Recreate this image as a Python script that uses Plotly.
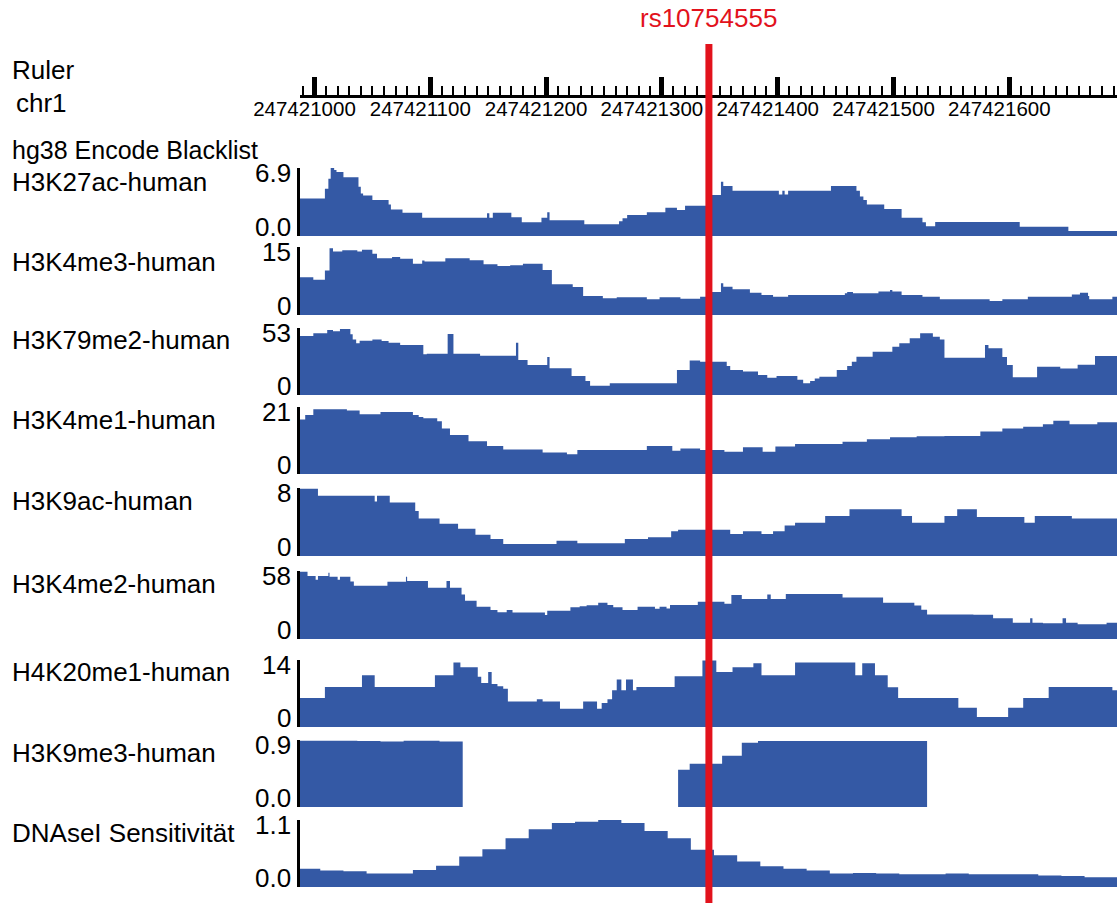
import plotly.graph_objects as go

W, H = 1117, 903
BASE = 247421000          # chr1 coordinate used as offset origin
VIEW = (-12.5, 693.0)     # visible window, bp offsets from BASE
SNP_NAME = "rs10754555"
SNP_OFFSET = 340.6

RULER_LABEL = "Ruler"
CHROM = "chr1"
BLACKLIST_LABEL = "hg38 Encode Blacklist"

# ---- track data: segment start (bp offset from BASE) and signal value ----
H3K27AC_POS = [-13, 9, 12, 14, 17, 19, 25, 38, 40, 42, 50, 64, 66, 76, 93, 149, 151, 154, 170, 179, 196, 201, 203,
               233, 263, 266, 270, 287, 303, 313, 320, 341, 351, 353, 361, 401, 404, 406, 409, 446, 468, 471, 474,
               477, 492, 507, 525, 528, 536, 609, 651]
H3K27AC_VAL = [3.8, 4.8, 5.8, 6.9, 6.7, 6.5, 5.95, 5.0, 4.3, 4.1, 3.65, 3.2, 2.7, 2.36, 1.86, 2.3, 1.86, 2.36, 1.9,
               1.39, 1.86, 2.4, 1.59, 1.19, 1.5, 1.8, 2.13, 2.4, 2.87, 2.65, 3.07, 4.16, 5.5, 5.07, 4.6, 4.2, 4.6,
               4.2, 4.6, 5.07, 4.6, 4.0, 3.65, 3.2, 2.73, 1.86, 1.4, 1.0, 1.42, 0.95, 0.5]

H3K4ME3_POS = [-13, -1, 9, 13, 16, 24, 37, 41, 50, 54, 67, 74, 85, 93, 95, 113, 134, 146, 158, 169, 180, 197, 205,
               223, 232, 249, 261, 287, 298, 316, 333, 341, 351, 353, 361, 376, 386, 396, 409, 458, 460, 465, 487,
               497, 499, 507, 525, 540, 583, 594, 616, 654, 661, 668, 669, 689]
H3K4ME3_VAL = [8.3, 7.8, 9.8, 14.7, 14.0, 14.3, 14.0, 14.4, 13.5, 12.5, 12.8, 12.4, 11.3, 12.0, 11.8, 12.5, 12.1,
               11.2, 10.8, 11.0, 11.3, 9.9, 6.8, 6.2, 4.2, 3.7, 3.9, 3.5, 3.9, 3.6, 4.0, 5.1, 7.0, 6.25, 5.7, 4.9,
               4.4, 4.0, 4.4, 4.8, 5.1, 4.8, 5.2, 5.5, 5.2, 4.4, 4.0, 3.5, 3.1, 3.5, 4.0, 4.5, 4.9, 4.2, 3.5, 4.0]

H3K79ME2_POS = [-13, -1, 11, 16, 22, 31, 33, 36, 39, 50, 58, 64, 74, 94, 97, 115, 120, 143, 174, 176, 184, 201,
                203, 222, 234, 238, 255, 313, 324, 333, 356, 359, 370, 383, 391, 399, 417, 422, 428, 432, 436, 451,
                460, 464, 468, 482, 499, 505, 514, 523, 534, 540, 544, 579, 582, 594, 598, 603, 624, 644, 659, 674]
H3K79ME2_VAL = [46.7, 48.8, 51.4, 50.5, 52.2, 48.0, 44.0, 41.0, 43.0, 44.0, 42.7, 41.4, 39.6, 32.2, 32.7, 48.3,
                32.7, 31.1, 41.4, 27.7, 23.7, 30.0, 21.1, 15.0, 11.0, 7.4, 9.2, 19.8, 27.2, 26.4, 23.0, 19.8, 18.5,
                15.8, 13.7, 15.0, 12.0, 9.2, 11.0, 13.0, 14.5, 19.8, 23.0, 26.4, 30.3, 34.3, 38.2, 40.9, 44.8, 48.8,
                46.0, 44.0, 29.5, 39.6, 37.0, 30.0, 23.7, 14.0, 22.4, 21.0, 24.0, 30.9]

H3K4ME1_POS = [-13, -8, -1, 28, 39, 57, 85, 90, 94, 106, 110, 117, 133, 149, 163, 197, 218, 227, 287, 309, 316,
               333, 354, 370, 387, 398, 415, 456, 477, 497, 520, 544, 575, 594, 612, 629, 638, 652, 676]
H3K4ME1_VAL = [17.1, 18.5, 20.3, 19.9, 18.7, 19.4, 18.5, 17.9, 17.5, 16.5, 14.3, 12.2, 10.3, 8.8, 7.7, 6.7, 6.2,
               7.5, 8.8, 7.3, 8.0, 7.5, 7.0, 8.4, 7.0, 8.6, 9.4, 10.1, 10.9, 11.5, 11.8, 11.9, 13.3, 14.3, 14.8,
               15.6, 16.7, 15.6, 16.2]

H3K9AC_POS = [-13, 3, 52, 54, 65, 87, 90, 108, 124, 139, 152, 163, 209, 227, 268, 288, 308, 314, 359, 370, 386,
              396, 406, 415, 441, 462, 507, 516, 544, 555, 572, 613, 622, 654]
H3K9AC_VAL = [7.9, 7.1, 6.4, 7.1, 6.3, 5.3, 4.4, 3.8, 3.2, 2.5, 2.0, 1.4, 1.8, 1.5, 2.0, 2.2, 2.9, 3.1, 2.6, 2.9,
              2.6, 2.9, 3.6, 3.9, 4.7, 5.5, 4.7, 3.9, 4.7, 5.5, 4.6, 3.9, 4.7, 4.4]

H3K4ME2_POS = [-13, -6, 1, 3, 12, 13, 20, 22, 31, 34, 63, 79, 80, 98, 114, 117, 127, 130, 140, 152, 158, 166, 171,
               199, 201, 221, 229, 235, 245, 253, 258, 266, 279, 294, 298, 304, 307, 331, 354, 360, 369, 391, 394,
               407, 456, 491, 518, 524, 529, 569, 586, 603, 618, 620, 629, 646, 649, 659, 684]
H3K4ME2_VAL = [57.4, 53.8, 50.5, 53.8, 56.6, 53.2, 50.5, 53.2, 49.0, 45.5, 48.9, 53.0, 49.5, 43.8, 49.5, 43.8,
               38.0, 32.7, 27.6, 24.7, 22.8, 24.7, 22.5, 20.5, 24.2, 27.0, 28.0, 28.7, 31.0, 29.0, 27.0, 24.7, 27.6,
               25.8, 27.6, 26.0, 29.0, 31.8, 30.0, 37.5, 34.1, 38.0, 34.1, 38.4, 35.5, 31.0, 28.5, 25.0, 21.0, 20.6,
               17.6, 13.9, 17.6, 13.9, 13.4, 17.6, 13.9, 12.5, 13.9]

H4K20ME1_POS = [-13, 9, 41, 52, 104, 120, 126, 141, 144, 150, 153, 158, 163, 167, 192, 197, 212, 232, 244, 248, 253,
                257, 261, 265, 269, 275, 278, 311, 335, 347, 361, 379, 386, 415, 467, 473, 484, 495, 504, 556, 572,
                599, 612, 634, 689]
H4K20ME1_VAL = [6.05, 8.35, 10.8, 8.35, 10.8, 13.5, 12.5, 10.5, 9.2, 11.5, 9.0, 8.5, 8.0, 5.35, 5.8, 5.35, 3.8,
                5.35, 3.8, 5.0, 5.8, 7.7, 9.9, 7.7, 9.9, 7.7, 8.35, 10.6, 13.9, 11.5, 12.5, 13.3, 10.8, 13.5, 10.8,
                13.3, 10.8, 8.3, 6.05, 4.0, 2.1, 4.0, 6.05, 8.35, 7.7]

H3K9ME3_POS = [-13, 37, 57, 77, 108, 128, 314, 324, 352, 369, 383, 529]
H3K9ME3_VAL = [0.89, 0.885, 0.88, 0.89, 0.88, 0.0, 0.5, 0.58, 0.69, 0.864, 0.885, 0.0]

DNASE_POS = [-15, 5, 25, 45, 65, 85, 105, 125, 145, 165, 185, 205, 225, 245, 265, 285, 305, 325, 345, 365, 385,
             405, 425, 445, 465, 485, 505, 525, 545, 565, 585, 605, 625, 645, 665, 685]
DNASE_VAL = [0.30, 0.27, 0.26, 0.22, 0.22, 0.28, 0.35, 0.50, 0.62, 0.80, 0.95, 1.05, 1.07, 1.10, 1.05, 0.92, 0.80,
             0.61, 0.52, 0.42, 0.34, 0.30, 0.27, 0.22, 0.23, 0.22, 0.21, 0.21, 0.22, 0.21, 0.21, 0.21, 0.19, 0.18,
             0.16, 0.16]

TRACK_NAMES = ["H3K27ac-human", "H3K4me3-human", "H3K79me2-human", "H3K4me1-human", "H3K9ac-human",
               "H3K4me2-human", "H4K20me1-human", "H3K9me3-human", "DNAseI Sensitivität"]
TRACK_MAX = [6.9, 15, 53, 21, 8, 58, 14, 0.9, 1.1]
TRACK_MAX_TEXT = ["6.9", "15", "53", "21", "8", "58", "14", "0.9", "1.1"]
TRACK_MIN_TEXT = ["0.0", "0", "0", "0", "0", "0", "0", "0.0", "0.0"]
TRACK_POS = [H3K27AC_POS, H3K4ME3_POS, H3K79ME2_POS, H3K4ME1_POS, H3K9AC_POS, H3K4ME2_POS, H4K20ME1_POS,
             H3K9ME3_POS, DNASE_POS]
TRACK_VAL = [H3K27AC_VAL, H3K4ME3_VAL, H3K79ME2_VAL, H3K4ME1_VAL, H3K9AC_VAL, H3K4ME2_VAL, H4K20ME1_VAL,
             H3K9ME3_VAL, DNASE_VAL]

# ---- layout (pixels) ----
TRACK_TOP = [168, 247, 328, 407, 488, 571, 660, 740, 820]
TRACK_BASE = [236, 315, 395, 474, 556, 639, 727, 807, 887]
LABEL_Y = [182, 262, 340, 420, 501, 584, 672, 753, 833]
X0_PX = 300
FONT = "Liberation Sans, Arial, Helvetica, sans-serif"
BLUE = "#3459a5"
RED = "#e2121c"
TXT = 26


def py(p):
    return 1 - p / H


fig = go.Figure()
layout = dict(
    template="none",
    width=W, height=H, margin=dict(l=0, r=0, t=0, b=0, pad=0), autosize=False,
    paper_bgcolor="white", plot_bgcolor="white", showlegend=False,
    font=dict(family=FONT, color="black"),
)

xr = [BASE + VIEW[0], BASE + VIEW[1]]
annotations = []
for i in range(9):
    n = i + 1
    yname = "y" if n == 1 else f"y{n}"
    axname = "yaxis" if n == 1 else f"yaxis{n}"
    xs = [BASE + p for p in TRACK_POS[i]] + [BASE + VIEW[1]]
    ys = list(TRACK_VAL[i]) + [TRACK_VAL[i][-1]]
    fig.add_trace(go.Scatter(x=xs, y=ys, xaxis="x", yaxis=yname, mode="lines",
                             line=dict(shape="hv", width=0, color=BLUE),
                             fill="tozeroy", fillcolor=BLUE, hoverinfo="skip"))
    layout[axname] = dict(domain=[py(TRACK_BASE[i]), py(TRACK_TOP[i])], range=[0, TRACK_MAX[i]],
                          anchor="x", showline=True, linewidth=3, linecolor="black", automargin=False,
                          showticklabels=False, showgrid=False, zeroline=False, ticks="", fixedrange=True)
    annotations.append(dict(text=TRACK_NAMES[i], xref="paper", yref="paper", x=10 / W, y=py(LABEL_Y[i]),
                            xanchor="left", yanchor="middle", showarrow=False, font=dict(size=TXT)))
    annotations.append(dict(text=TRACK_MAX_TEXT[i], xref="paper", yref=yname, x=293 / W, y=TRACK_MAX[i],
                            xanchor="right", yanchor="middle", yshift=-5, showarrow=False, font=dict(size=TXT)))
    annotations.append(dict(text=TRACK_MIN_TEXT[i], xref="paper", yref=yname, x=293 / W, y=0,
                            xanchor="right", yanchor="middle", yshift=9, showarrow=False, font=dict(size=TXT)))

# ruler subplot
fig.add_trace(go.Scatter(x=[xr[0]], y=[0], xaxis="x", yaxis="y10", mode="markers",
                         marker=dict(opacity=0), hoverinfo="skip"))
layout["yaxis10"] = dict(domain=[py(95), py(60)], range=[0, 1], anchor="x", visible=False, fixedrange=True,
                         automargin=False)
layout["xaxis"] = dict(domain=[X0_PX / W, 1], range=xr, anchor="y10", showline=True, linewidth=3,
                       linecolor="black", showgrid=False, zeroline=False, automargin=False,
                       ticks="inside", ticklen=18, tickwidth=5, tickcolor="black",
                       tick0=BASE, dtick=100, tickformat="d", ticklabelshift=-10, ticklabelstandoff=-7,
                       tickfont=dict(size=20.5, family=FONT, color="black"),
                       minor=dict(ticks="inside", ticklen=9, tickwidth=2, tickcolor="black",
                                  tick0=BASE, dtick=10, showgrid=False),
                       fixedrange=True)

annotations += [
    dict(text=RULER_LABEL, xref="paper", yref="paper", x=10 / W, y=py(70), xanchor="left", yanchor="middle",
         showarrow=False, font=dict(size=TXT)),
    dict(text=CHROM, xref="paper", yref="paper", x=14 / W, y=py(103), xanchor="left", yanchor="middle",
         showarrow=False, font=dict(size=TXT)),
    dict(text=BLACKLIST_LABEL, xref="paper", yref="paper", x=10 / W, y=py(150), xanchor="left",
         yanchor="middle", showarrow=False, font=dict(size=25)),
    dict(text=SNP_NAME, xref="x", yref="paper", x=BASE + SNP_OFFSET, y=py(18), xanchor="center",
         yanchor="middle", showarrow=False, font=dict(size=TXT, color=RED)),
]
layout["annotations"] = annotations
layout["shapes"] = [dict(type="line", xref="x", yref="paper", x0=BASE + SNP_OFFSET, x1=BASE + SNP_OFFSET,
                         y0=0, y1=py(44), line=dict(color=RED, width=7), layer="above")]
fig.update_layout(**layout)
fig.write_html("out.html")
